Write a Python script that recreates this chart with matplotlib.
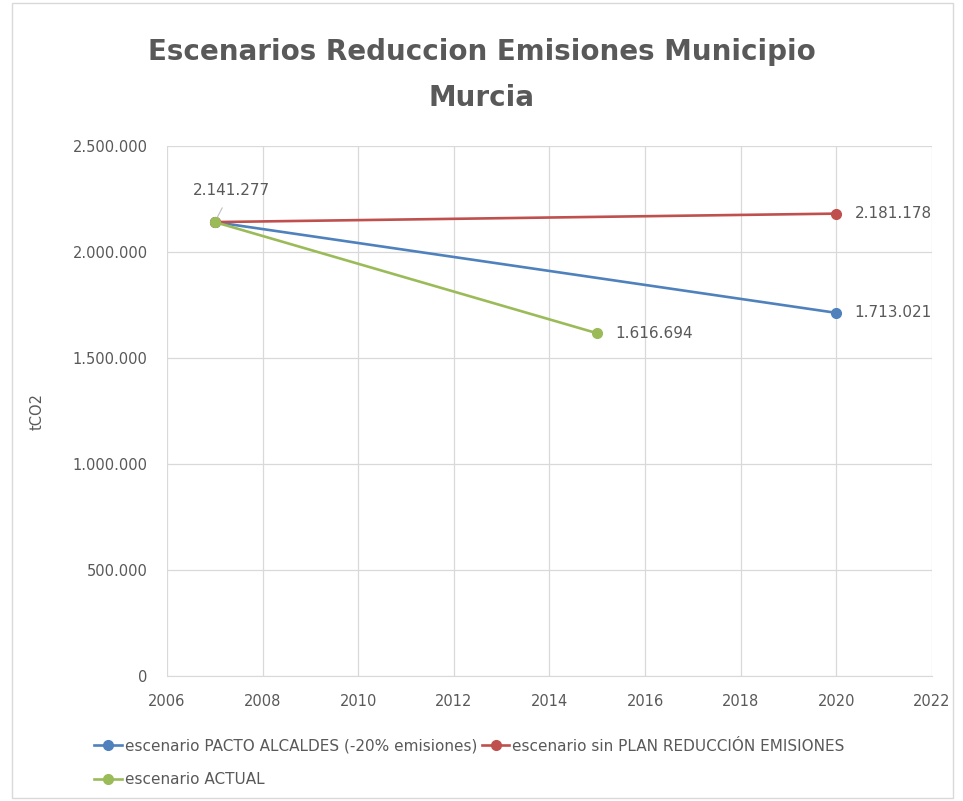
import matplotlib.pyplot as plt
from matplotlib.ticker import FuncFormatter
from matplotlib.patches import Rectangle

# Data
pacto_years = [2007, 2020]
pacto_vals = [2141277, 1713021]
sin_plan_years = [2007, 2020]
sin_plan_vals = [2141277, 2181178]
actual_years = [2007, 2015]
actual_vals = [2141277, 1616694]

labels = ["escenario PACTO ALCALDES (-20% emisiones)",
          "escenario sin PLAN REDUCCIÓN EMISIONES",
          "escenario ACTUAL"]
colors = ["#4F81BD", "#C0504D", "#9BBB59"]
text_gray = "#595959"


def thousands(v, pos=None):
    return f"{int(round(v)):,}".replace(",", ".")


fig = plt.figure(figsize=(9.63, 8.01), dpi=100)
fig.patches.append(Rectangle((0.012, 0.004), 0.978, 0.992, transform=fig.transFigure,
                             fill=False, edgecolor="#D9D9D9", linewidth=1))
ax = fig.add_axes([0.1734, 0.156, 0.7944, 0.6617])

h_pacto, = ax.plot(pacto_years, pacto_vals, color=colors[0], lw=1.9,
                   marker="o", ms=7, label=labels[0], zorder=3)
h_sin, = ax.plot(sin_plan_years, sin_plan_vals, color=colors[1], lw=1.9,
                 marker="o", ms=7, label=labels[1], zorder=3)
h_act, = ax.plot(actual_years, actual_vals, color=colors[2], lw=1.9,
                 marker="o", ms=7, label=labels[2], zorder=4)

# data labels
ax.annotate(thousands(actual_vals[0]), (actual_years[0], actual_vals[0]),
            xytext=(12, 23), textcoords="offset points", ha="center", va="center",
            fontsize=11, color=text_gray,
            arrowprops=dict(arrowstyle="-", color="#BFBFBF", lw=0.8, shrinkA=6, shrinkB=3))
for xs, ys in [(sin_plan_years, sin_plan_vals), (pacto_years, pacto_vals),
               (actual_years, actual_vals)]:
    ax.annotate(thousands(ys[-1]), (xs[-1], ys[-1]), xytext=(13, 0),
                textcoords="offset points", ha="left", va="center",
                fontsize=11, color=text_gray)

ax.set_xlim(2006, 2022)
ax.set_ylim(0, 2500000)
ax.set_xticks(range(2006, 2023, 2))
ax.set_yticks(range(0, 2500001, 500000))
ax.yaxis.set_major_formatter(FuncFormatter(thousands))
ax.grid(True, color="#D9D9D9", lw=0.9)
ax.set_axisbelow(True)
for s in ["top", "right", "left"]:
    ax.spines[s].set_visible(False)
ax.spines["bottom"].set_color("#D9D9D9")
ax.tick_params(axis="y", length=0, labelsize=10.5, colors=text_gray, pad=14)
ax.tick_params(axis="x", length=0, labelsize=10.5, colors=text_gray, pad=13)
ax.set_ylabel("tCO2", fontsize=10.5, color=text_gray, labelpad=20)

fig.suptitle("Escenarios Reduccion Emisiones Municipio\nMurcia", y=0.952,
             fontsize=20, fontweight="bold", color=text_gray, linespacing=1.8)

fig.legend([h_pacto, h_act, h_sin], [labels[0], labels[2], labels[1]],
           ncol=2, loc="upper left", bbox_to_anchor=(0.098, 0.078),
           frameon=False, fontsize=11, labelcolor=text_gray,
           handlelength=1.8, handletextpad=0.2, columnspacing=0.3,
           labelspacing=1.2, borderpad=0, borderaxespad=0)

fig.savefig("out.png", dpi=100)
